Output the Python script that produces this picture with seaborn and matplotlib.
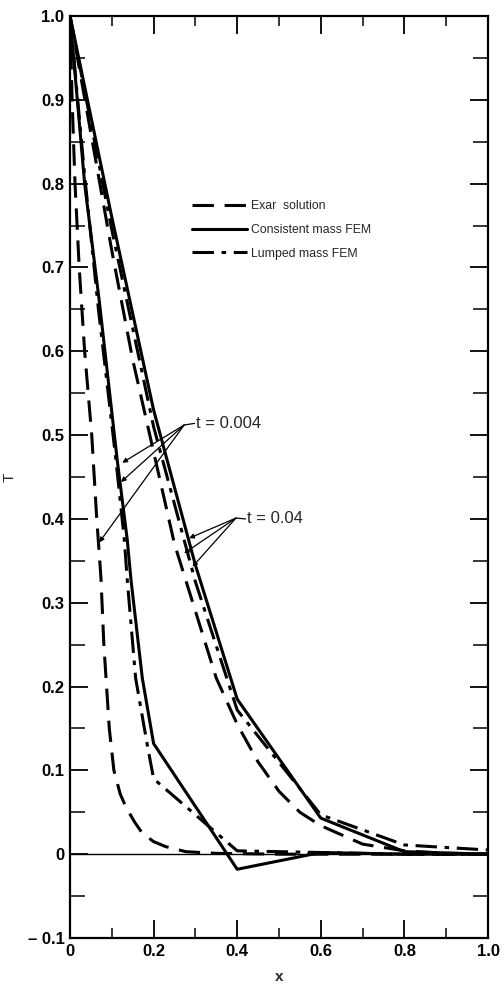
import matplotlib
matplotlib.use("Agg")
import matplotlib.pyplot as plt
import seaborn as sns
import numpy as np
import pandas as pd
from matplotlib.ticker import FixedLocator, FixedFormatter, MultipleLocator

# ---------------- data ----------------
# t = 0.004
exact_004_x = [0.0, 0.005, 0.012, 0.022, 0.035, 0.052, 0.064, 0.074, 0.081, 0.094,
               0.105, 0.12, 0.134, 0.155, 0.173, 0.20, 0.229, 0.277, 0.35, 0.5, 0.7, 1.0]
exact_004_y = [1.0, 0.90, 0.80, 0.70, 0.60, 0.50, 0.40, 0.33, 0.25, 0.15,
               0.10, 0.072, 0.056, 0.038, 0.025, 0.015, 0.009, 0.003, 0.001, 0.0, 0.0, 0.0]

cons_004_x = [0.0, 0.035, 0.07, 0.113, 0.137, 0.146, 0.173, 0.2, 0.4, 0.6, 0.8, 1.0]
cons_004_y = [1.0, 0.80, 0.66, 0.47, 0.375, 0.327, 0.21, 0.132, -0.018, 0.002, 0.0, 0.0]

lump_004_x = [0.0, 0.035, 0.068, 0.11, 0.13, 0.137, 0.157, 0.185, 0.2, 0.4, 0.6, 0.8, 1.0]
lump_004_y = [1.0, 0.81, 0.65, 0.47, 0.375, 0.327, 0.21, 0.13, 0.09, 0.004, 0.002, 0.0, 0.0]

# t = 0.04
exact_04_x = [0.0, 0.05, 0.1, 0.15, 0.2, 0.25, 0.3, 0.35, 0.4, 0.45, 0.5, 0.55,
              0.6, 0.7, 0.8, 0.9, 1.0]
exact_04_y = [1.0, 0.86, 0.72, 0.59, 0.48, 0.37, 0.29, 0.21, 0.155, 0.11, 0.075, 0.05,
              0.034, 0.012, 0.004, 0.001, 0.0]

cons_04_x = [0.0, 0.1, 0.2, 0.3, 0.4, 0.6, 0.8, 1.0]
cons_04_y = [1.0, 0.76, 0.53, 0.345, 0.185, 0.043, 0.003, 0.0]

lump_04_x = [0.0, 0.1, 0.2, 0.3, 0.4, 0.6, 0.8, 1.0]
lump_04_y = [1.0, 0.745, 0.51, 0.325, 0.172, 0.047, 0.011, 0.005]

legend_labels = ["Exar  solution", "Consistent mass FEM", "Lumped mass FEM"]

x_ticks = [0.0, 0.2, 0.4, 0.6, 0.8, 1.0]
x_tick_labels = ["0", "0.2", "0.4", "0.6", "0.8", "1.0"]
y_ticks = [-0.1, 0.0, 0.1, 0.2, 0.3, 0.4, 0.5, 0.6, 0.7, 0.8, 0.9, 1.0]
y_tick_labels = ["\u2013 0.1", "0", "0.1", "0.2", "0.3", "0.4", "0.5", "0.6", "0.7",
                 "0.8", "0.9", "1.0"]

# annotations: (label, label position, hub, arrow targets)
ann_004 = ("t = 0.004", (0.302, 0.514), (0.273, 0.512),
           [(0.125, 0.467), (0.122, 0.444), (0.070, 0.372)])
ann_04 = ("t = 0.04", (0.424, 0.400), (0.397, 0.401),
          [(0.285, 0.377), (0.273, 0.359), (0.293, 0.343)])

# ---------------- styling ----------------
sns.set_theme(style="ticks")
plt.rcParams["font.family"] = ["Liberation Sans", "DejaVu Sans"]

dashed = (0, (7, 3.5))
dashdot = (0, (7, 2.5, 1.5, 2.5))

fig = plt.figure(figsize=(5.04, 9.91), dpi=100)
ax = fig.add_axes([70 / 504, 1 - 938 / 991, 418 / 504, 922 / 991])

def draw(xs, ys, style, lw, label=None):
    df = pd.DataFrame({"x": xs, "T": ys})
    sns.lineplot(data=df, x="x", y="T", ax=ax, color="black", lw=lw,
                 sort=False, estimator=None, label=label)
    ln = ax.get_lines()[-1]
    ln.set_linestyle(style)
    ln.set_dash_capstyle("butt")
    return ln

h1 = draw(exact_004_x, exact_004_y, dashed, 2.2)
h2 = draw(cons_004_x, cons_004_y, "-", 2.2)
h3 = draw(lump_004_x, lump_004_y, dashdot, 2.2)
draw(exact_04_x, exact_04_y, dashed, 2.2)
draw(cons_04_x, cons_04_y, "-", 2.2)
draw(lump_04_x, lump_04_y, dashdot, 2.2)

ax.axhline(0.0, color="black", lw=1.0, zorder=1)

ax.set_xlim(0, 1.0)
ax.set_ylim(-0.1, 1.0)

ax.xaxis.set_major_locator(FixedLocator(x_ticks))
ax.xaxis.set_major_formatter(FixedFormatter(x_tick_labels))
ax.xaxis.set_minor_locator(MultipleLocator(0.1))
ax.yaxis.set_major_locator(FixedLocator(y_ticks))
ax.yaxis.set_major_formatter(FixedFormatter(y_tick_labels))
ax.yaxis.set_minor_locator(MultipleLocator(0.05))

ax.tick_params(axis="both", which="major", direction="in", length=13, width=1.3,
               top=True, right=True, labelsize=12, colors="black", pad=4)
ax.tick_params(axis="both", which="minor", direction="in", length=7, width=1.3,
               top=True, right=True)
ax.tick_params(axis="y", which="minor", right=True, length=11)
for lab in ax.get_xticklabels() + ax.get_yticklabels():
    lab.set_fontweight("bold")

for s in ax.spines.values():
    s.set_visible(True)
    s.set_linewidth(1.6)
    s.set_color("black")

ax.set_xlabel("x", fontsize=11, labelpad=8, fontweight="bold")
ax.set_ylabel("T", fontsize=11, labelpad=8)

# legend
leg = ax.legend(handles=[h1, h2, h3], labels=legend_labels, loc="upper left",
                bbox_to_anchor=(0.293, 0.800), frameon=False, fontsize=8.8,
                handlelength=4.5, handletextpad=0.3, labelspacing=0.95,
                borderpad=0, borderaxespad=0)

# annotations
for label, tpos, hub, targets in (ann_004, ann_04):
    for tx, ty in targets:
        ax.annotate("", xy=(tx, ty), xytext=hub,
                    arrowprops=dict(arrowstyle="-|>", color="black", lw=0.9,
                                    mutation_scale=7, shrinkA=0, shrinkB=0))
    ax.plot([hub[0], tpos[0] - 0.004], [hub[1], tpos[1]], color="black", lw=0.9)
    ax.text(tpos[0], tpos[1], label, fontsize=12, ha="left", va="center")

fig.savefig("out.png", dpi=100)
